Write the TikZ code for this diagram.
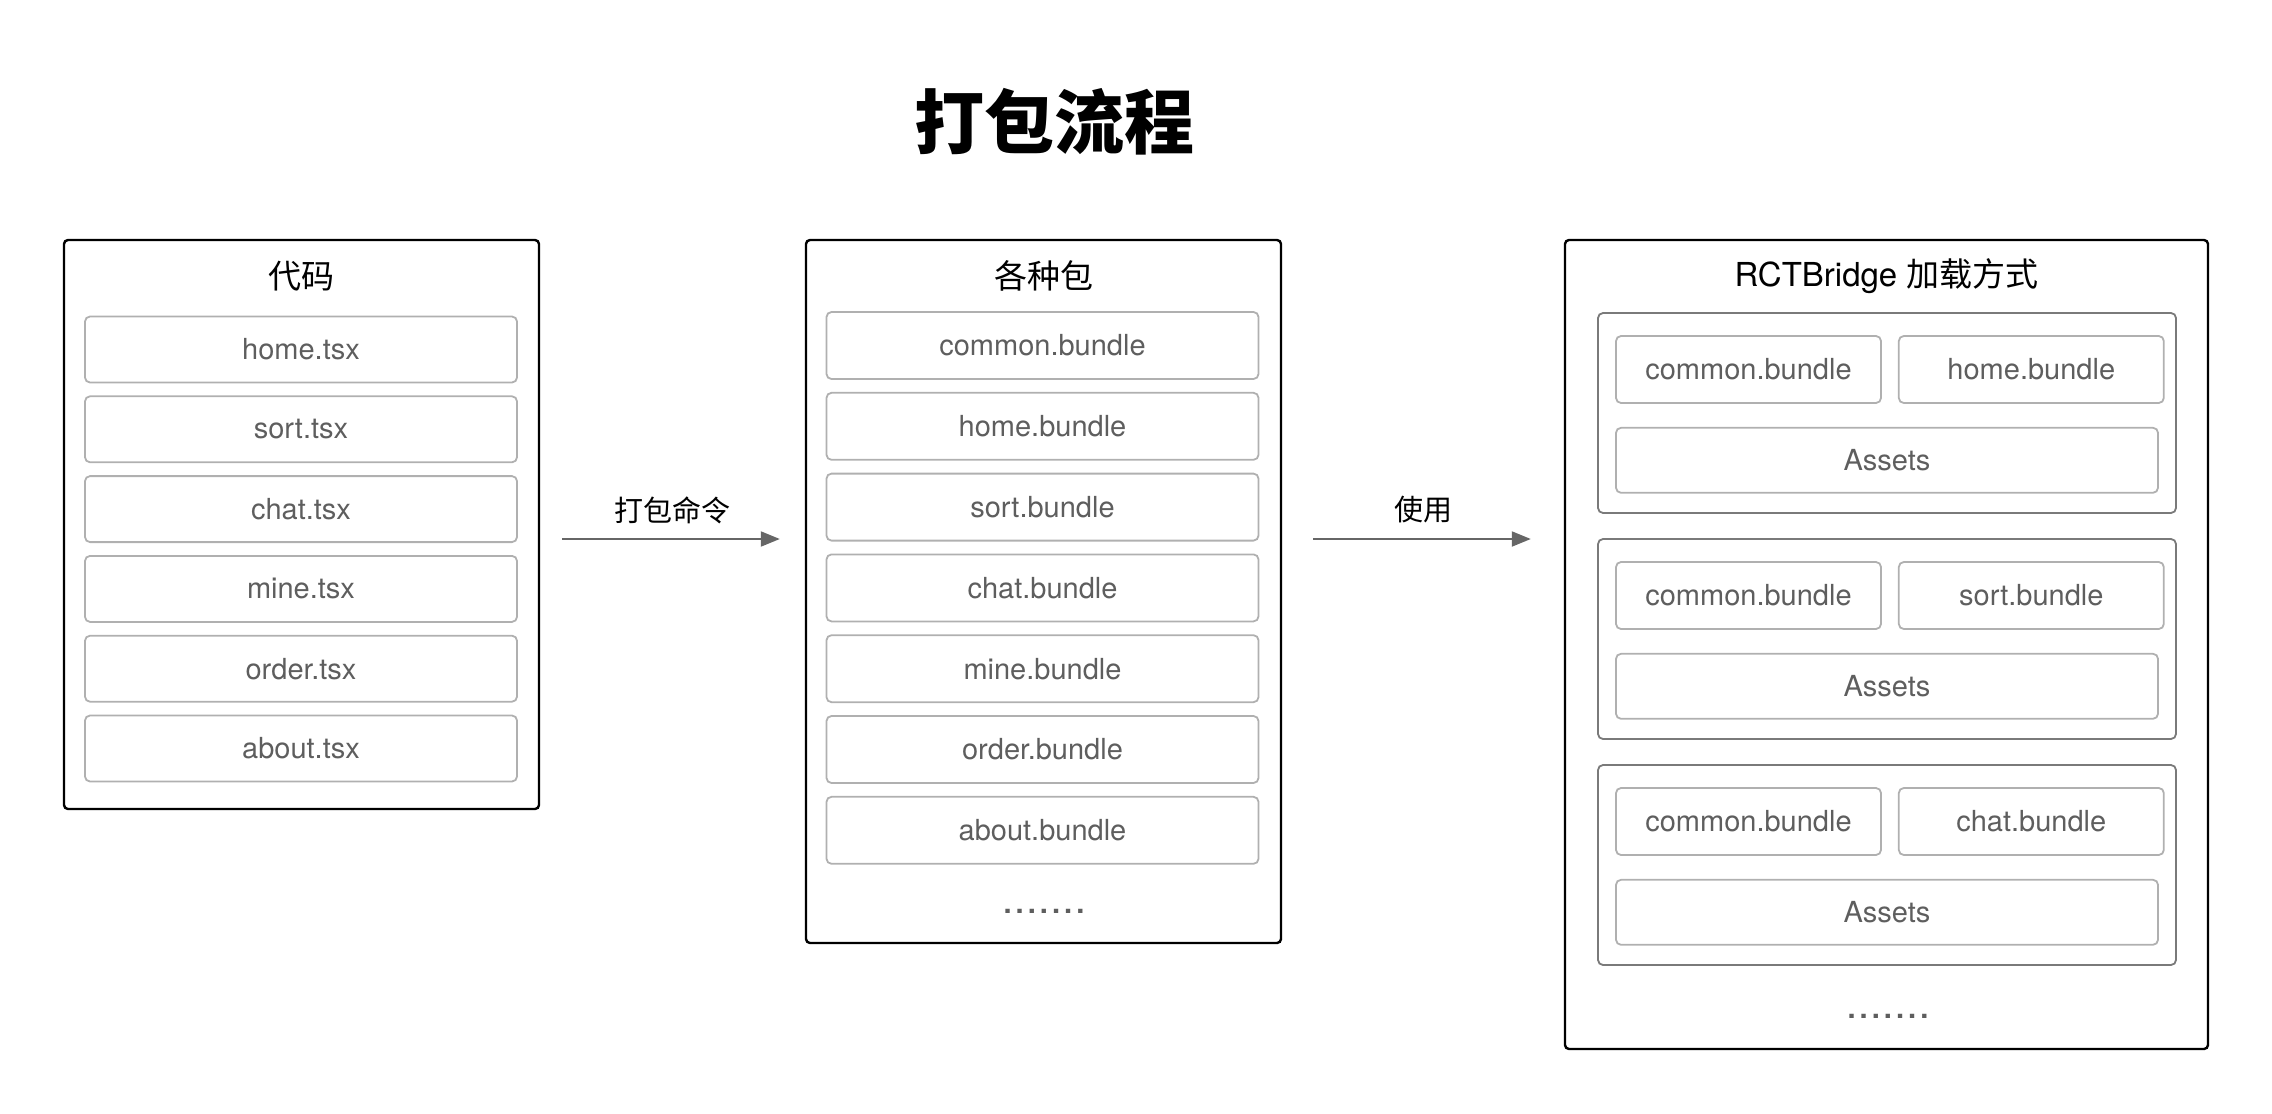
\documentclass[tikz,border=0pt]{standalone}
\usepackage{fontspec}
\setmainfont{TeX Gyre Heros}
\newfontfamily\cjk{Noto Sans CJK SC}
\newfontfamily\dotfont[LetterSpace=14]{TeX Gyre Heros}
\usetikzlibrary{positioning, arrows.meta}
\definecolor{linegray}{HTML}{B0B0B0}
\definecolor{groupgray}{HTML}{7A7A7A}
\definecolor{textgray}{HTML}{5E5E5E}
\definecolor{arrowgray}{HTML}{666666}

\begin{document}
\begin{tikzpicture}[
    x=0.5pt, y=-0.5pt,
    >={Triangle[length=9.5pt, width=7.5pt]},
    node distance=6pt,
    panel/.style={
        draw=black,
        line width=1.2pt,
        rounded corners=2pt,
        inner sep=0pt
    },
    paneltitle/.style={
        font=\fontsize{16.5}{19}\selectfont,
        inner sep=0pt
    },
    filebox/.style={
        draw=linegray,
        line width=0.9pt,
        rounded corners=2.5pt,
        minimum width=216pt,
        minimum height=33pt,
        inner sep=0pt,
        text=textgray,
        font=\fontsize{14.5}{17}\selectfont
    },
    group/.style={
        draw=groupgray,
        line width=0.9pt,
        rounded corners=2.5pt,
        minimum width=289pt,
        minimum height=100pt,
        inner sep=0pt
    },
    morebox/.style={
        text=textgray,
        font=\dotfont\bfseries\fontsize{14.5}{17}\selectfont
    },
    flow/.style={
        ->,
        draw=arrowgray,
        line width=1pt
    },
    flowlabel/.style={
        midway,
        yshift=14.5pt,
        font=\cjk\fontsize{14.5}{17}\selectfont
    }
]
\useasboundingbox (0,0) rectangle (2272,1114);

\node[font=\cjk\bfseries\fontsize{35}{40}\selectfont] (title) at (1054,122) {打包流程};

% frames
\node[panel, minimum width=237.5pt, minimum height=284.5pt] (code) at (301.5,524.5) {};
\node[panel, minimum width=237.5pt, minimum height=351.5pt] (pkgs) at (1043.5,591.5) {};
\node[panel, minimum width=321.5pt, minimum height=404.5pt] (load) at (1886.5,644.5) {};

\node[paneltitle] (codeT) at ([yshift=-18.5pt]code.north) {\cjk 代码};
\node[paneltitle] (pkgsT) at ([yshift=-18.5pt]pkgs.north) {\cjk 各种包};
\node[paneltitle] (loadT) at ([yshift=-18.5pt]load.north) {RCTBridge {\cjk 加载方式}};

% source files
\node[filebox] (homeS) at (301,349.5) {home.tsx};
\node[filebox, below=of homeS] (sortS) {sort.tsx};
\node[filebox, below=of sortS] (chatS) {chat.tsx};
\node[filebox, below=of chatS] (mineS) {mine.tsx};
\node[filebox, below=of mineS] (orderS) {order.tsx};
\node[filebox, below=of orderS] (aboutS) {about.tsx};

% bundles
\node[filebox, minimum height=33.5pt] (commonB) at (1042.5,345.5) {common.bundle};
\node[filebox, minimum height=33.5pt, below=of commonB] (homeB) {home.bundle};
\node[filebox, minimum height=33.5pt, below=of homeB] (sortB) {sort.bundle};
\node[filebox, minimum height=33.5pt, below=of sortB] (chatB) {chat.bundle};
\node[filebox, minimum height=33.5pt, below=of chatB] (mineB) {mine.bundle};
\node[filebox, minimum height=33.5pt, below=of mineB] (orderB) {order.bundle};
\node[filebox, minimum height=33.5pt, below=of orderB] (aboutB) {about.bundle};
\node[morebox] (moreB) at (1044,911) {.......};

% bridge groups
\node[group] (g1) at (1887,413) {};
\node[filebox, minimum width=132.5pt, minimum height=33.5pt, below right=11.5pt and 9pt of g1.north west] (g1c) {common.bundle};
\node[filebox, minimum width=132.5pt, minimum height=33.5pt, right=8pt of g1c] (g1b) {home.bundle};
\node[filebox, minimum width=271pt, minimum height=32.5pt, below right=11.5pt and 0pt of g1c.south west] (g1a) {Assets};

\node[group] (g2) at (1887,639) {};
\node[filebox, minimum width=132.5pt, minimum height=33.5pt, below right=11.5pt and 9pt of g2.north west] (g2c) {common.bundle};
\node[filebox, minimum width=132.5pt, minimum height=33.5pt, right=8pt of g2c] (g2b) {sort.bundle};
\node[filebox, minimum width=271pt, minimum height=32.5pt, below right=11.5pt and 0pt of g2c.south west] (g2a) {Assets};

\node[group] (g3) at (1887,865) {};
\node[filebox, minimum width=132.5pt, minimum height=33.5pt, below right=11.5pt and 9pt of g3.north west] (g3c) {common.bundle};
\node[filebox, minimum width=132.5pt, minimum height=33.5pt, right=8pt of g3c] (g3b) {chat.bundle};
\node[filebox, minimum width=271pt, minimum height=32.5pt, below right=11.5pt and 0pt of g3c.south west] (g3a) {Assets};
\node[morebox] (moreL) at (1888,1016) {.......};

% arrows
\coordinate (flowy) at (0,539);
\path
(code.east |- flowy) edge[flow, shorten <=11pt, shorten >=12.5pt] node[flowlabel] {打包命令} (pkgs.west |- flowy)
(pkgs.east |- flowy) edge[flow, shorten <=15.5pt, shorten >=16.5pt] node[flowlabel] {使用} (load.west |- flowy);
\end{tikzpicture}
\end{document}
